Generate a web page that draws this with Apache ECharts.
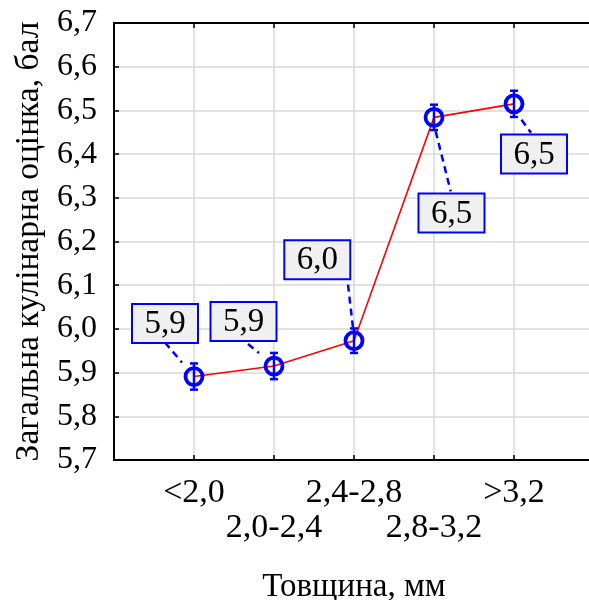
<!DOCTYPE html>
<html>
<head>
<meta charset="utf-8">
<script src="https://cdn.jsdelivr.net/npm/echarts@6/dist/echarts.min.js"></script>
<style>
html,body{margin:0;padding:0;background:#fff;}
#chart{width:589px;height:600px;}
</style>
</head>
<body>
<div id="chart"></div>
<script>
// ---- data ----
const categories = ['<2,0', '2,0-2,4', '2,4-2,8', '2,8-3,2', '>3,2'];
const means = [5.891, 5.915, 5.973, 6.484, 6.515];
const errors = [0.030, 0.030, 0.028, 0.029, 0.030];
const pointLabels = ['5,9', '5,9', '6,0', '6,5', '6,5'];
const yMin = 5.7, yMax = 6.7, yStep = 0.1;
const xTitle = 'Товщина, мм';
const yTitle = 'Загальна кулінарна оцінка, бал';

// ---- label box placement (pixel offsets from each point) ----
const boxOffsets = [[-29, -53], [-30.5, -44.5], [-36.7, -81], [17.5, 95.7], [20, 50.2]];
const leaderOffsets = [
  [[-29, -34], [-12, -14]],
  [[-26, -22], [-15, -13]],
  [[-6, -56], [-1, -13]],
  [[1.7, 14], [16.7, 74]],
  [[7.5, 16], [17, 29]]
];

const FONT = '"Liberation Serif", "Times New Roman", serif';
const BLUE = '#0000ff';

const chart = echarts.init(document.getElementById('chart'), null, {renderer: 'canvas'});

const lineData = categories.map((c, i) => [i + 1, means[i]]);
const customData = categories.map((c, i) => [i + 1, means[i], errors[i], i]);

chart.setOption({
  animation: false,
  backgroundColor: '#fff',
  grid: {left: 114, top: 23, width: 480, height: 437, containLabel: false, outerBoundsMode: 'none'},
  xAxis: [{
    type: 'value', min: 0, max: 6, interval: 1, position: 'bottom',
    axisLine: {show: true, onZero: false, lineStyle: {color: '#000', width: 2}},
    axisTick: {show: true, inside: true, length: 5, lineStyle: {color: '#000', width: 1.5}},
    splitLine: {show: true, lineStyle: {color: '#d9d9d9', width: 1.5}},
    axisLabel: {
      margin: 16, fontFamily: FONT, fontSize: 34, color: '#000', lineHeight: 35,
      formatter: function (v) {
        const i = Math.round(v) - 1;
        if (i < 0 || i >= categories.length) return '';
        return i % 2 === 0 ? categories[i] : '\n' + categories[i];
      }
    },
    name: xTitle, nameLocation: 'middle', nameGap: 127,
    nameTextStyle: {fontFamily: FONT, fontSize: 33, color: '#000', verticalAlign: 'middle'}
  }, {
    type: 'value', min: 0, max: 6, interval: 1, position: 'top',
    axisLine: {show: true, onZero: false, lineStyle: {color: '#000', width: 2}},
    axisTick: {show: true, inside: true, length: 5, lineStyle: {color: '#000', width: 1.5}},
    splitLine: {show: false},
    axisLabel: {show: false}
  }],
  yAxis: {
    type: 'value', min: yMin, max: yMax, interval: yStep,
    axisLine: {show: true, onZero: false, lineStyle: {color: '#000', width: 2}},
    axisTick: {show: true, inside: true, length: 5, lineStyle: {color: '#000', width: 1.5}},
    splitLine: {show: true, lineStyle: {color: '#d9d9d9', width: 1.5}},
    axisLabel: {
      margin: 17, fontFamily: FONT, fontSize: 32, color: '#000',
      formatter: v => v.toFixed(1).replace('.', ',')
    },
    name: yTitle, nameLocation: 'middle', nameGap: 84, nameRotate: 90,
    nameTextStyle: {fontFamily: FONT, fontSize: 33.5, color: '#000', verticalAlign: 'middle'}
  },
  series: [{
    type: 'line', data: lineData, xAxisIndex: 0,
    symbol: 'none', lineStyle: {color: '#ff0000', width: 1.6}, z: 2
  }, {
    type: 'custom', data: customData, xAxisIndex: 0, z: 3, clip: false,
    renderItem: function (params, api) {
      const x = api.value(0), y = api.value(1), e = api.value(2), i = api.value(3);
      const p = api.coord([x, y]);
      const pt = api.coord([x, y + e]);
      const pb = api.coord([x, y - e]);
      const bo = boxOffsets[i], lo = leaderOffsets[i];
      const bw = 66, bh = 39;
      const cap = 4;
      return {
        type: 'group',
        children: [
          {type: 'line', shape: {x1: p[0], y1: pt[1], x2: p[0], y2: pb[1]}, style: {stroke: BLUE, lineWidth: 2.5}},
          {type: 'line', shape: {x1: p[0] - cap, y1: pt[1], x2: p[0] + cap, y2: pt[1]}, style: {stroke: BLUE, lineWidth: 2.5}},
          {type: 'line', shape: {x1: p[0] - cap, y1: pb[1], x2: p[0] + cap, y2: pb[1]}, style: {stroke: BLUE, lineWidth: 2.5}},
          {type: 'circle', shape: {cx: p[0], cy: p[1], r: 8.5}, style: {fill: 'none', stroke: BLUE, lineWidth: 3.8}},
          {type: 'line', shape: {x1: p[0] + lo[0][0], y1: p[1] + lo[0][1], x2: p[0] + lo[1][0], y2: p[1] + lo[1][1]},
            style: {stroke: BLUE, lineWidth: 2.5, lineDash: [7, 5]}},
          {type: 'rect', shape: {x: p[0] + bo[0] - bw / 2, y: p[1] + bo[1] - bh / 2, width: bw, height: bh},
            style: {fill: '#f0f0f0', stroke: BLUE, lineWidth: 2}},
          {type: 'text', style: {x: p[0] + bo[0], y: p[1] + bo[1] + 1, text: pointLabels[i], fill: '#000',
            font: '33px ' + FONT, textAlign: 'center', textVerticalAlign: 'middle'}}
        ]
      };
    }
  }]
});
</script>
</body>
</html>
